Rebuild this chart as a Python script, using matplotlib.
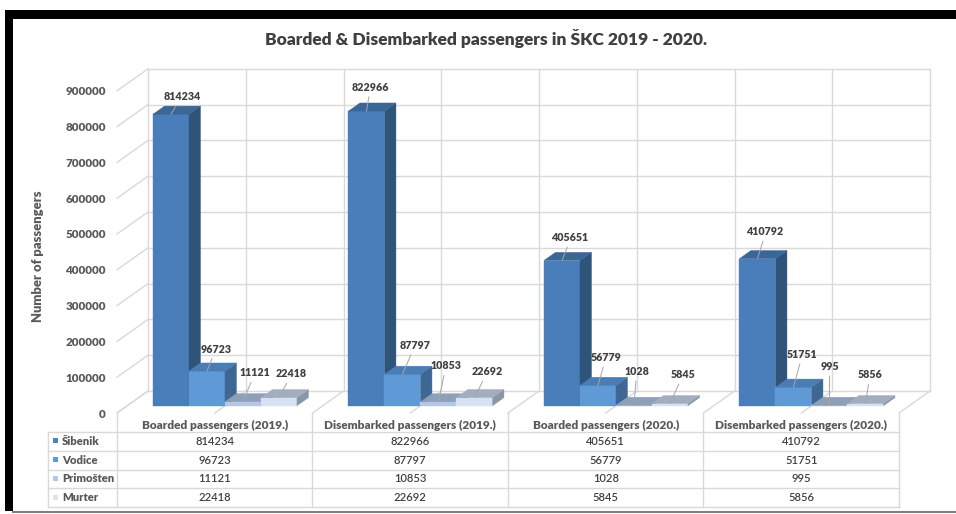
import matplotlib
matplotlib.use('Agg')
import matplotlib.pyplot as plt
from matplotlib.patches import Polygon, Rectangle

# ---------------- data ----------------
categories = ['Boarded passengers (2019.)', 'Disembarked passengers (2019.)',
              'Boarded passengers (2020.)', 'Disembarked passengers (2020.)']
series_names = ['Šibenik', 'Vodice', 'Primošten', 'Murter']
sibenik = [814234, 822966, 405651, 410792]
vodice = [96723, 87797, 56779, 51751]
primosten = [11121, 10853, 1028, 995]
murter = [22418, 22692, 5845, 5856]
y_ticks = [0, 100000, 200000, 300000, 400000, 500000, 600000, 700000, 800000, 900000]
title = 'Boarded & Disembarked passengers in ŠKC 2019 - 2020.'
y_label = 'Number of passengers'

series = [sibenik, vodice, primosten, murter]

# ---------------- style ----------------
plt.rcParams['font.family'] = ['Lato', 'DejaVu Sans']
W, H = 956, 514
FRONT = ['#4A7EBB', '#5F9AD6', '#B4C7E7', '#D6E2F3']
TOP = ['#3B6698', '#4A7DB3', '#8E9FB8', '#A2AEBE']
SIDE = ['#2F5479', '#3E6893', '#76859C', '#8A95A5']
LEGEND = ['#4F81BD', '#5B9BD5', '#B4C7E7', '#DAE3F3']
GRID = '#D9D9D9'
TXT = '#595959'
TXT_DARK = '#404040'
BOLD = 'heavy'
SCALE = 1.06
# label offsets in pixels (dx right, dy down) relative to bar top
LABEL_OFF = [
    [(11, -18), (4, -24), (9, -23), (8.5, -27)],
    [(9, -22), (12.5, -29), (8, -28), (9, -33)],
    [(12, -29), (7.5, -36), (2.7, -34), (0, -39)],
    [(12.7, -24), (13, -26), (13, -29), (4.5, -29)],
]

fig = plt.figure(figsize=(W / 100, H / 100), dpi=100)
fig.patch.set_facecolor('white')
renderer = fig.canvas.get_renderer()


def fit_size(s, target, scale=SCALE, **kw):
    t = fig.text(0, 0, s, fontsize=10, **kw)
    w = t.get_window_extent(renderer).width
    t.remove()
    return 10 * target / w * scale


# background / overlay axes in pixel coordinates
bg = fig.add_axes([0, 0, 1, 1])
bg.set_xlim(0, W)
bg.set_ylim(H, 0)
bg.axis('off')

# main axes geometry (front plane)
AX_L, AX_R, AX_B = 117, 899, 413
PX_PER_VAL = 35.8 / 100000
YMAX = y_ticks[-1]
ncat = len(categories)
CAT_PX = (AX_R - AX_L) / ncat
ax = fig.add_axes([AX_L / W, (H - AX_B) / H, (AX_R - AX_L) / W, YMAX * PX_PER_VAL / H])
ax.set_xlim(-0.5, ncat - 0.5)
ax.set_ylim(0, YMAX)
ax.patch.set_alpha(0)
for sp in ax.spines.values():
    sp.set_visible(False)
ax.set_xticks([])

DX = 31 / CAT_PX
DY = 22 / PX_PER_VAL
F0, F1 = 0.33, 0.70
BAR_W = 36 / CAT_PX


def P(x, v, f):
    return (x + f * DX, v + f * DY)


# back wall, side wall and floor gridlines
for v in y_ticks:
    a, b = P(-0.5, v, 1), P(ncat - 0.5, v, 1)
    ax.plot([a[0], b[0]], [a[1], b[1]], color=GRID, lw=1, clip_on=False, zorder=1)
    c = P(-0.5, v, 0)
    ax.plot([c[0], a[0]], [c[1], a[1]], color=GRID, lw=1, clip_on=False, zorder=1)
for k in range(2 * ncat + 1):
    x = -0.5 + k * 0.5
    a, b = P(x, 0, 1), P(x, YMAX, 1)
    ax.plot([a[0], b[0]], [a[1], b[1]], color=GRID, lw=1, clip_on=False, zorder=1)
    c = P(x, 0, 0)
    ax.plot([c[0], a[0]], [c[1], a[1]], color=GRID, lw=1, clip_on=False, zorder=1)

# bars
for i in range(ncat):
    for j, vals in enumerate(series):
        v = vals[i]
        x0 = i - 2 * BAR_W + j * BAR_W
        x1 = x0 + BAR_W
        z = 3 + i * 10 + j
        ax.bar(x0 + F0 * DX, v, width=BAR_W, bottom=F0 * DY, align='edge',
               color=FRONT[j], edgecolor=FRONT[j], linewidth=0.3, zorder=z, clip_on=False)
        side = Polygon([P(x1, 0, F0), P(x1, v, F0), P(x1, v, F1), P(x1, 0, F1)],
                       closed=True, facecolor=SIDE[j], edgecolor=SIDE[j], lw=0.3,
                       zorder=z, clip_on=False)
        top = Polygon([P(x0, v, F0), P(x1, v, F0), P(x1, v, F1), P(x0, v, F1)],
                      closed=True, facecolor=TOP[j], edgecolor=TOP[j], lw=0.3,
                      zorder=z, clip_on=False)
        ax.add_patch(side)
        ax.add_patch(top)

# data labels
lab_size = fit_size('814234', 35, fontweight=BOLD)
for i in range(ncat):
    for j, vals in enumerate(series):
        v = vals[i]
        xc = i - 2 * BAR_W + j * BAR_W + BAR_W / 2
        dx, dy = LABEL_OFF[j][i]
        ax.annotate(str(v), xy=P(xc, v, F0), xytext=(dx, -dy), textcoords='offset pixels',
                    ha='center', va='center', fontsize=lab_size, fontweight=BOLD,
                    color=TXT_DARK, zorder=100, annotation_clip=False,
                    arrowprops=dict(arrowstyle='-', color='#A6A6A6', lw=0.7,
                                    shrinkA=1, shrinkB=0))

# y axis ticks
tick_size = fit_size('900000', 38, fontweight=BOLD)
ax.set_yticks(y_ticks)
ax.set_yticklabels([str(t) for t in y_ticks], fontweight=BOLD, color=TXT, fontsize=tick_size)
ax.tick_params(axis='y', length=0, pad=8)
ylab_size = fit_size(y_label, 125, fontweight=BOLD)
ax.set_ylabel(y_label, fontweight=BOLD, color=TXT, fontsize=ylab_size)
ax.yaxis.set_label_coords((44 - AX_L) / (AX_R - AX_L), 0.487)

# title
title_size = fit_size(title, 443, scale=1.0, fontweight=BOLD)
bg.text(486.5, 38, title, ha='center', va='center', fontsize=title_size,
        fontweight=BOLD, color=TXT_DARK)

# borders of the screenshot
bg.add_patch(Rectangle((5, 10), W - 5, 9, facecolor='black', edgecolor='none'))
bg.add_patch(Rectangle((5, 10), 8, 501, facecolor='black', edgecolor='none'))
bg.plot([13, W], [512, 512], color='#808080', lw=1.5)

# data table
col_x = [AX_L + k * CAT_PX for k in range(ncat + 1)]
TABLE_L = 48
row_y = [432, 450.7, 469.5, 488.3, 507.2]
for x in col_x:
    bg.plot([x, x], [AX_B, row_y[-1]], color=GRID, lw=1)
bg.plot([TABLE_L, TABLE_L], [row_y[0], row_y[-1]], color=GRID, lw=1)
for y in row_y:
    bg.plot([TABLE_L, AX_R], [y, y], color=GRID, lw=1)

head_size = fit_size(categories[0], 138, fontweight=BOLD)
for k, c in enumerate(categories):
    bg.text((col_x[k] + col_x[k + 1]) / 2, 425, c, ha='center', va='center',
            fontsize=head_size, fontweight=BOLD, color=TXT)

leg_size = fit_size('Primošten', 50, fontweight=BOLD)
val_size = fit_size('814234', 36.7, fontweight='semibold')
for r, (name, vals) in enumerate(zip(series_names, series)):
    yc = (row_y[r] + row_y[r + 1]) / 2
    bg.add_patch(Rectangle((53.5, yc - 3), 5, 5, facecolor=LEGEND[r], edgecolor='none'))
    bg.text(62, yc, name, ha='left', va='center', fontsize=leg_size,
            fontweight=BOLD, color=TXT)
    for k, v in enumerate(vals):
        bg.text((col_x[k] + col_x[k + 1]) / 2, yc, str(v), ha='center', va='center',
                fontsize=val_size, fontweight='semibold', color=TXT_DARK)

fig.savefig('out.png', dpi=100, facecolor='white')
